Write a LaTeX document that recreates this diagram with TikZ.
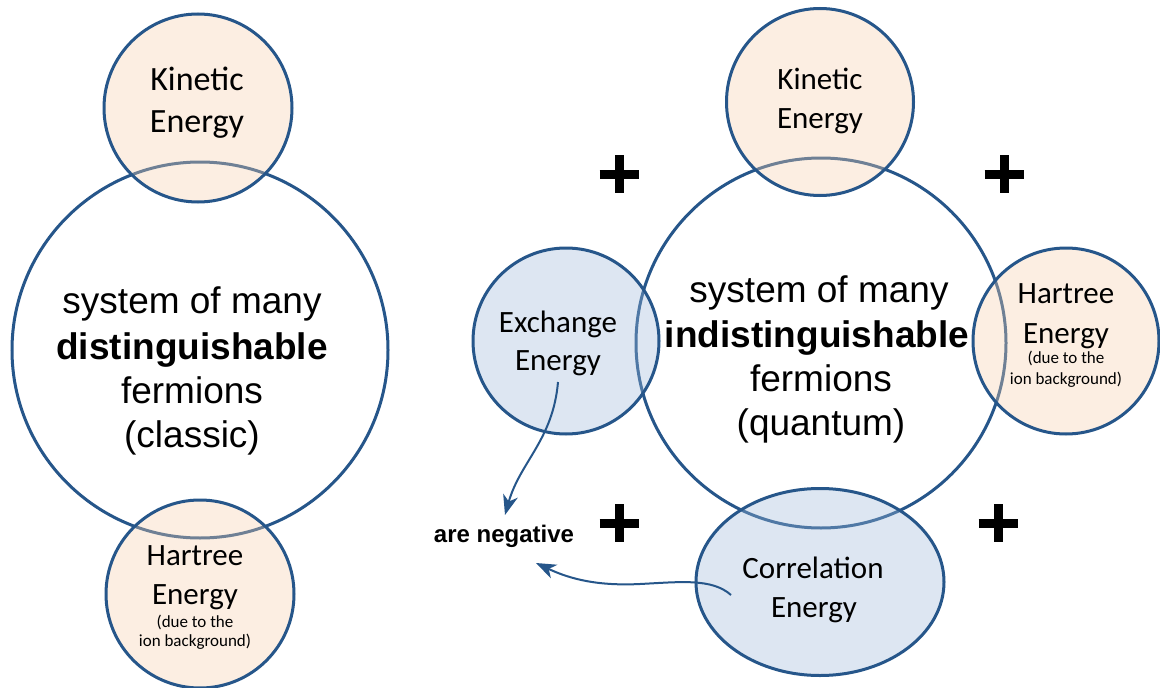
\documentclass[tikz,border=0pt]{standalone}
\usepackage{fontspec}
\setmainfont{Carlito}
\newfontfamily\arialfam{Liberation Sans}
\usetikzlibrary{shapes.geometric,arrows.meta}
\definecolor{edgeblue}{RGB}{38,86,138}
\definecolor{peach}{RGB}{249,209,172}
\definecolor{paleblue}{RGB}{158,186,218}
\begin{document}
\begin{tikzpicture}[x=1pt,y=-1pt,
  ring/.style={draw=edgeblue, line width=3pt, circle, inner sep=0pt},
  peachring/.style={ring, fill=peach, fill opacity=0.35},
  bluering/.style={ring, fill=paleblue, fill opacity=0.35},
  txt/.style={inner sep=0pt, anchor=base, text=black},
  bigtxt/.style={txt, font=\arialfam\fontsize{37}{44}\selectfont},
  midtxt/.style={txt, font=\fontsize{31}{38}\selectfont},
  lmidtxt/.style={txt, font=\fontsize{34}{40}\selectfont},
  smalltxt/.style={txt, font=\fontsize{17}{21}\selectfont},
  conn/.style={draw=edgeblue, line width=2pt, -{Stealth[length=20pt,width=15pt,inset=6pt]}},
  plusbar/.style={line width=9pt, draw=black}]
\useasboundingbox (0,0) rectangle (1160,688);
\fill[white] (0,0) rectangle (1160,688);

% ---------- left: classic ----------
\node[ring, minimum size=376pt] (lsys) at (200,350) {};
\node[peachring, minimum size=188pt] (lkin) at (198,108) {};
\node[peachring, minimum size=188pt] (lhar) at (200,594) {};

\node[lmidtxt] (lkin1) at (197,90) {Kinetic};
\node[lmidtxt] (lkin2) at (197,132) {Energy};

\node[bigtxt] (lsys1) at (192,313) {system of many};
\node[bigtxt] (lsys2) at (192,359) {\bfseries distinguishable};
\node[bigtxt] (lsys3) at (192,403) {fermions};
\node[bigtxt] (lsys4) at (192,447) {(classic)};

\node[midtxt] (lhar1) at (195,565) {Hartree};
\node[midtxt] (lhar2) at (195,604) {Energy};
\node[smalltxt] (lhar3) at (195,627) {(due to the};
\node[smalltxt] (lhar4) at (195,646) {ion background)};

% ---------- right: quantum ----------
\node[ring, minimum size=370pt] (rsys) at (821,343) {};
\node[peachring, minimum size=187pt] (rkin) at (820,102) {};
\node[bluering, minimum size=186pt] (exch) at (566,341) {};
\node[peachring, minimum size=186pt] (rhar) at (1066,341) {};
\node[bluering, ellipse, minimum width=248pt, minimum height=187pt] (corr) at (820,582) {};

\node[midtxt] (rkin1) at (820,89) {Kinetic};
\node[midtxt] (rkin2) at (820,128) {Energy};

\node[midtxt] (exch1) at (558,332) {Exchange};
\node[midtxt] (exch2) at (558,370) {Energy};

\node[bigtxt] (rsys1) at (819,302) {system of many};
\node[bigtxt] (rsys2) at (817,347) {\bfseries indistinguishable};
\node[bigtxt] (rsys3) at (821,391) {fermions};
\node[bigtxt] (rsys4) at (821,435) {(quantum)};

\node[midtxt] (rhar1) at (1066,303) {Hartree};
\node[midtxt] (rhar2) at (1066,343) {Energy};
\node[smalltxt] (rhar3) at (1066,363) {(due to the};
\node[smalltxt] (rhar4) at (1066,384) {ion background)};

\node[midtxt] (corr1) at (813,578) {Correlation};
\node[midtxt] (corr2) at (814,617) {Energy};

\node[txt, font=\arialfam\bfseries\fontsize{24}{28}\selectfont] (neg) at (504,542) {are negative};

% ---------- connectors ----------
\coordinate (exstart) at (558,382);
\coordinate (negtop) at (505,515);
\coordinate (corrstart) at (731,595);
\coordinate (negright) at (536,563);
\path[conn] (exstart) .. controls (553,440) and (520,462) .. (negtop);
\path[conn] (corrstart) .. controls (712,578) and (680,582) .. (640,584)
   .. controls (600,586) and (572,580) .. (negright);

% ---------- plus signs ----------
\foreach \px/\py in {619/174, 1004/174, 619/523, 998/523} {
  \draw[plusbar] (\px-19.5,\py) -- (\px+19.5,\py);
  \draw[plusbar] (\px,\py-19) -- (\px,\py+19);
}
\end{tikzpicture}
\end{document}
